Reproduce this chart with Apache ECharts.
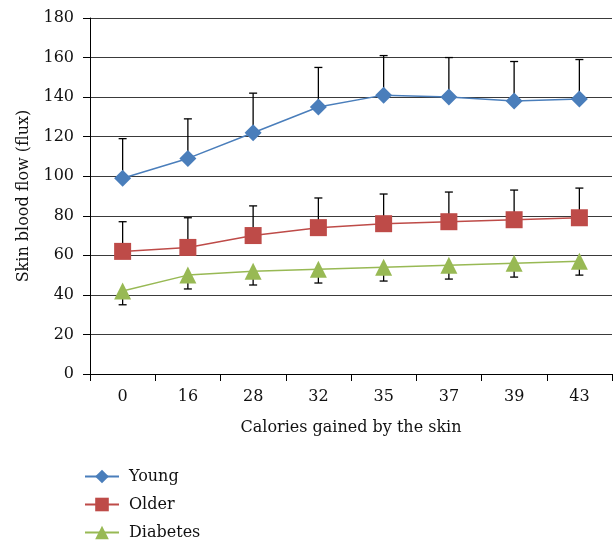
<!DOCTYPE html>
<html>
<head>
<meta charset="utf-8">
<script src="https://cdn.jsdelivr.net/npm/echarts@6/dist/echarts.min.js"></script>
<style>html,body{margin:0;padding:0;background:#fff}#c{width:616px;height:541px}</style>
</head>
<body>
<div id="c"></div>
<script>
var categories = ['0', '16', '28', '32', '35', '37', '39', '43'];
var young = [99, 109, 122, 135, 141, 140, 138, 139];
var youngErrEnd = [119, 129, 142, 155, 161, 160, 158, 159];
var older = [62, 64, 70, 74, 76, 77, 78, 79];
var olderErrEnd = [77, 79, 85, 89, 91, 92, 93, 94];
var diabetes = [42, 50, 52, 53, 54, 55, 56, 57];
var diabetesErrEnd = [35, 43, 45, 46, 47, 48, 49, 50];
var yTicks = [0, 180, 20];

var FONT = '"DejaVu Serif", "Liberation Serif", serif';

function errData(vals, ends) {
  return vals.map(function (v, i) { return [i, v, ends[i]]; });
}
function errRender(params, api) {
  var i = api.value(0);
  var p0 = api.coord([i, api.value(1)]);
  var p1 = api.coord([i, api.value(2)]);
  var hw = 4;
  var st = { stroke: '#000', lineWidth: 1.3 };
  return {
    type: 'group',
    children: [
      { type: 'line', shape: { x1: p0[0], y1: p0[1], x2: p1[0], y2: p1[1] }, style: st },
      { type: 'line', shape: { x1: p1[0] - hw, y1: p1[1], x2: p1[0] + hw, y2: p1[1] }, style: st }
    ]
  };
}
function errSeries(vals, ends) {
  return {
    type: 'custom', renderItem: errRender, data: errData(vals, ends),
    encode: { x: 0, y: [1, 2] }, z: 1, silent: true
  };
}

var chart = echarts.init(document.getElementById('c'), null, { renderer: 'canvas' });
chart.setOption({
  animation: false,
  backgroundColor: '#fff',
  textStyle: { fontFamily: FONT },
  grid: { left: 90, right: 4, top: 18, bottom: 167, containLabel: false },
  legend: {
    orient: 'vertical', left: 84, top: 468, padding: 0,
    itemWidth: 34, itemHeight: 17, itemGap: 11,
    textStyle: { fontFamily: FONT, fontSize: 16, color: '#111', padding: [0, 0, 0, 5], height: 17, lineHeight: 17 },
    data: ['Young', 'Older', 'Diabetes']
  },
  xAxis: {
    type: 'category', data: categories, boundaryGap: true,
    name: 'Calories gained by the skin', nameLocation: 'middle', nameGap: 46,
    nameTextStyle: { fontFamily: FONT, fontSize: 16, color: '#111' },
    axisLine: { lineStyle: { color: '#000', width: 1 } },
    axisTick: { show: true, length: 7, alignWithLabel: false, lineStyle: { color: '#000' } },
    axisLabel: { fontFamily: FONT, fontSize: 16, color: '#111', margin: 15 },
    splitLine: { show: false }
  },
  yAxis: {
    type: 'value', min: yTicks[0], max: yTicks[1], interval: yTicks[2],
    name: 'Skin blood flow (flux)', nameLocation: 'middle', nameGap: 58,
    nameTextStyle: { fontFamily: FONT, fontSize: 16, color: '#111' },
    axisLine: { show: true, lineStyle: { color: '#000', width: 1 } },
    axisTick: { show: true, length: 7, lineStyle: { color: '#000' } },
    axisLabel: { fontFamily: FONT, fontSize: 16, color: '#111', margin: 16 },
    splitLine: { show: true, lineStyle: { color: '#3a3a3a', width: 1 } }
  },
  series: [
    errSeries(young, youngErrEnd),
    errSeries(older, olderErrEnd),
    errSeries(diabetes, diabetesErrEnd),
    {
      name: 'Young', type: 'line', data: young, z: 3,
      symbol: 'diamond', symbolSize: 17,
      lineStyle: { color: '#4A7EBB', width: 1.5 },
      itemStyle: { color: '#4A7EBB' }
    },
    {
      name: 'Older', type: 'line', data: older, z: 3,
      symbol: 'rect', symbolSize: 17,
      lineStyle: { color: '#BE4B48', width: 1.5 },
      itemStyle: { color: '#BE4B48' }
    },
    {
      name: 'Diabetes', type: 'line', data: diabetes, z: 3,
      symbol: 'triangle', symbolSize: 17,
      lineStyle: { color: '#98B954', width: 1.5 },
      itemStyle: { color: '#98B954' }
    }
  ]
});
</script>
</body>
</html>
